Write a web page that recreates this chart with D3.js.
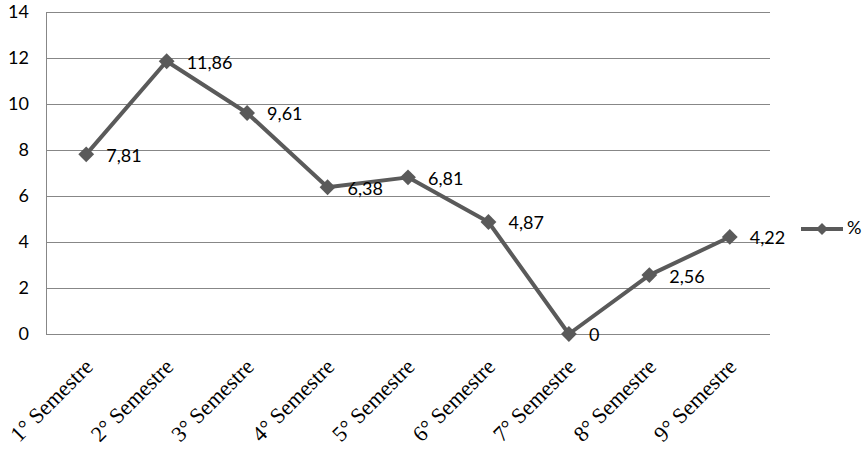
<!DOCTYPE html>
<html><head><meta charset="utf-8">
<script src="https://cdn.jsdelivr.net/npm/d3@7"></script>
<style>body{margin:0;background:#fff}svg{display:block}
.lb{font-family:Lato,"Open Sans",sans-serif;font-size:18px}</style>
</head><body><svg width="864" height="455"></svg>
<script>
const categories = ["1° Semestre","2° Semestre","3° Semestre","4° Semestre","5° Semestre","6° Semestre","7° Semestre","8° Semestre","9° Semestre"];
const values = [7.81, 11.86, 9.61, 6.38, 6.81, 4.87, 0, 2.56, 4.22];
const valueLabels = ["7,81","11,86","9,61","6,38","6,81","4,87","0","2,56","4,22"];
const yTicks = [0,2,4,6,8,10,12,14];
const seriesName = "%";

(function(){
const svg = d3.select("svg");
const pLeft = 46, pRight = 770, pTop = 12, pBottom = 334;
const x = d3.scaleBand().domain(categories).range([pLeft, pRight]);
const y = d3.scaleLinear().domain([0,14]).range([pBottom, pTop]);
const lineColor = "#5a5a5a", gridColor = "#878787";

svg.append("g").selectAll("line").data(yTicks).join("line")
  .attr("x1", pLeft).attr("x2", pRight)
  .attr("y1", d => y(d) + 0.5).attr("y2", d => y(d) + 0.5)
  .attr("stroke", gridColor).attr("stroke-width", 1);
svg.append("line").attr("x1", pLeft + 0.5).attr("x2", pLeft + 0.5)
  .attr("y1", pTop).attr("y2", pBottom + 1).attr("stroke", gridColor);

svg.append("g").selectAll("text").data(yTicks).join("text")
  .attr("class", "lb")
  .attr("x", 29).attr("y", d => y(d)).attr("dy", "0.36em")
  .attr("text-anchor", "end").attr("fill", "#000").text(d => d);

svg.append("g").selectAll("text").data(categories).join("text")
  .style("font-family", "'Times New Roman', 'Liberation Serif', 'DejaVu Serif', serif")
  .style("font-size", "22px")
  .attr("transform", d => `translate(${x(d) + x.bandwidth()/2 + 8},${pBottom + 34}) rotate(-45)`)
  .attr("text-anchor", "end").attr("fill", "#000").text(d => d);

const cx = (d, i) => x(categories[i]) + x.bandwidth()/2;
const line = d3.line().x((d, i) => cx(d, i)).y(d => y(d));
svg.append("path").datum(values).attr("d", line)
  .attr("fill", "none").attr("stroke", lineColor).attr("stroke-width", 4)
  .attr("stroke-linejoin", "round");

const sq = d3.symbol().type(d3.symbolSquare).size(125);
svg.append("g").selectAll("path").data(values).join("path")
  .attr("d", sq)
  .attr("transform", (d, i) => `translate(${cx(d, i)},${y(d)}) rotate(45)`)
  .attr("fill", lineColor);

svg.append("g").selectAll("text").data(values).join("text")
  .attr("class", "lb")
  .attr("x", (d, i) => cx(d, i) + 20).attr("y", d => y(d) + 1).attr("dy", "0.36em")
  .attr("fill", "#000")
  .text((d, i) => valueLabels[i]);

const lg = svg.append("g").attr("transform", "translate(801,229)");
lg.append("line").attr("x1", 0).attr("x2", 42).attr("y1", 0).attr("y2", 0)
  .attr("stroke", lineColor).attr("stroke-width", 4);
lg.append("path").attr("d", d3.symbol().type(d3.symbolSquare).size(72))
  .attr("transform", "translate(21,0) rotate(45)").attr("fill", lineColor);
lg.append("text").attr("class", "lb").attr("x", 46).attr("y", -1).attr("dy", "0.36em")
  .text(seriesName);
})();
</script></body></html>
